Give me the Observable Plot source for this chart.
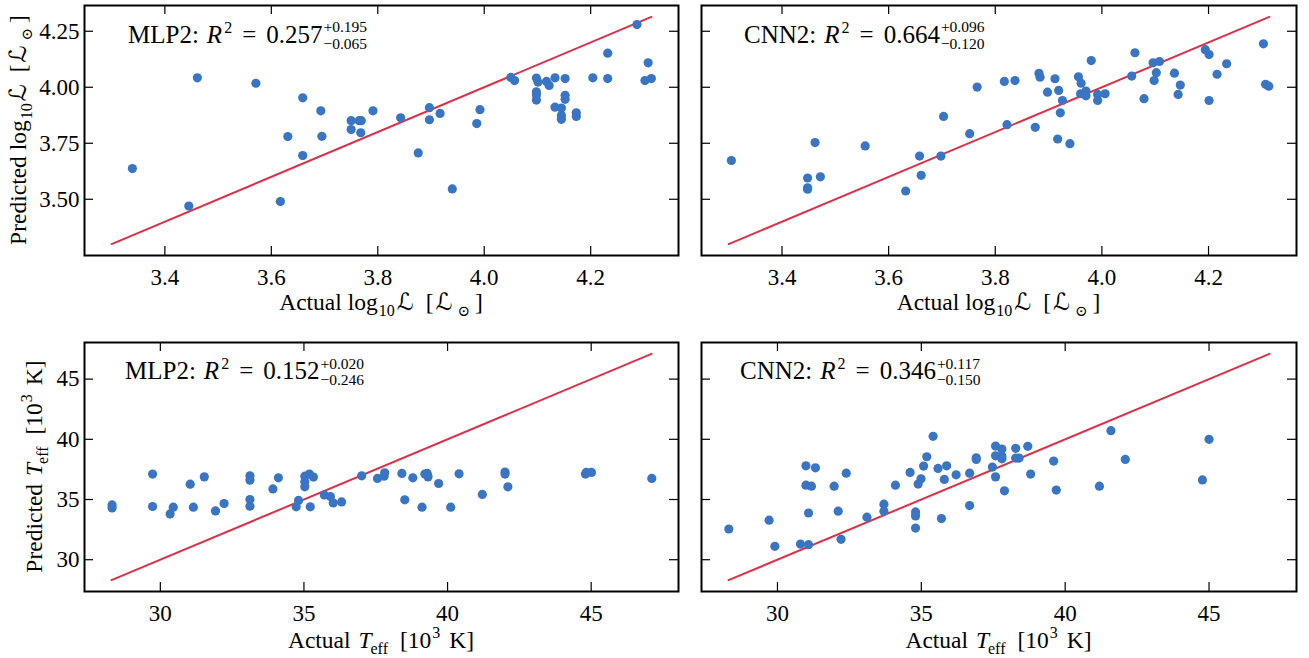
<!DOCTYPE html>
<html><head><meta charset="utf-8">
<script src="https://cdn.jsdelivr.net/npm/d3@7"></script>
<script src="https://cdn.jsdelivr.net/npm/@observablehq/plot@0.6"></script>
<style>
html,body{margin:0;padding:0;background:#fff;}
#root{position:relative;width:1309px;height:658px;overflow:hidden;}
.panel{position:absolute;}
</style></head><body><div id="root"></div>
<script>
// ---------- data ----------
const lumMlpActual = [3.339,3.461,3.445,3.571,3.617,3.631,3.659,3.659,3.693,3.695,3.750,3.765,3.769,3.750,3.768,3.791,3.843,3.897,3.897,3.917,3.876,3.940,3.986,3.992,4.050,4.057,4.098,4.101,4.098,4.098,4.117,4.122,4.133,4.152,4.133,4.145,4.145,4.145,4.152,4.152,4.173,4.173,4.204,4.232,4.232,4.287,4.308,4.302,4.314,4.098];
const lumMlpPred   = [3.637,4.042,3.470,4.018,3.490,3.780,3.953,3.695,3.895,3.781,3.851,3.851,3.851,3.811,3.797,3.895,3.864,3.909,3.855,3.883,3.707,3.546,3.838,3.900,4.044,4.030,4.041,4.023,3.980,3.943,4.026,4.008,4.042,4.039,3.911,3.907,3.874,3.857,3.964,3.946,3.886,3.870,4.042,4.152,4.039,4.280,4.109,4.030,4.039,3.965];
const lumCnnActual = [3.305,3.448,3.448,3.448,3.462,3.472,3.556,3.632,3.658,3.661,3.698,3.703,3.752,3.766,3.817,3.837,3.822,3.875,3.882,3.884,3.898,3.912,3.919,3.926,3.922,3.917,3.940,3.956,3.961,3.960,3.970,3.970,3.980,3.992,3.992,4.006,4.056,4.062,4.079,4.096,4.108,4.102,4.098,4.136,4.147,4.143,4.194,4.201,4.201,4.216,4.234,4.303,4.307,4.313];
const lumCnnPred   = [3.673,3.595,3.551,3.545,3.753,3.600,3.738,3.537,3.693,3.607,3.693,3.870,3.793,4.001,4.026,4.030,3.833,3.821,4.062,4.045,3.978,4.038,3.986,3.941,3.886,3.769,3.748,4.047,4.018,3.971,3.983,3.962,4.119,3.968,3.941,3.971,4.050,4.154,3.949,4.109,4.115,4.065,4.030,4.063,4.010,3.968,4.168,4.146,3.941,4.058,4.105,4.194,4.013,4.005];
const teffMlpActual = [28.32,28.32,29.73,29.73,30.34,30.45,31.04,31.15,31.53,31.92,32.22,33.12,33.12,33.12,33.12,33.92,34.11,34.73,34.81,35.03,35.03,35.03,35.19,35.33,35.22,35.71,35.92,36.02,36.31,37.01,37.56,37.79,37.81,38.41,38.51,38.79,39.11,39.21,39.32,39.29,39.69,40.11,40.40,41.21,42.00,42.00,42.10,44.80,44.83,45.01,47.11];
const teffMlpPred   = [34.55,34.30,37.11,34.42,33.80,34.36,36.27,34.36,36.88,34.05,34.67,36.97,36.61,35.00,34.44,35.88,36.80,34.39,34.92,36.94,36.47,36.05,37.11,36.86,34.39,35.38,35.25,34.72,34.80,36.97,36.75,36.94,37.22,37.17,34.97,36.80,34.36,37.11,36.88,37.17,36.33,34.36,37.13,35.42,37.28,37.11,36.05,37.11,37.25,37.25,36.75];
const teffCnnActual = [28.31,29.71,29.91,30.80,30.99,30.99,31.18,31.32,31.08,31.08,31.97,32.11,32.21,32.39,33.11,33.70,33.70,34.10,34.61,34.80,34.80,34.80,34.89,34.99,35.08,35.19,35.41,35.58,35.70,35.80,35.88,36.21,36.68,36.68,36.91,36.91,37.47,37.58,37.58,37.58,37.80,37.80,37.80,37.89,38.28,38.28,38.40,38.70,38.80,39.60,39.69,41.19,41.59,42.09,44.77,45.00];
const teffCnnPred   = [32.55,33.28,31.11,31.30,37.80,36.19,36.11,37.63,33.88,31.25,36.11,34.03,31.69,37.19,33.53,34.61,34.03,36.19,37.25,33.97,33.63,32.63,36.28,36.72,37.78,38.55,40.25,37.58,33.42,36.67,37.80,37.05,37.19,34.50,38.47,38.33,37.69,39.44,38.63,36.88,39.19,38.61,38.38,35.72,39.25,38.44,38.44,39.42,37.11,38.19,35.78,36.11,40.72,38.33,36.63,40.00];

const lumLine  = [3.300, 4.314];   // one-to-one reference line ends
const teffLine = [28.3, 47.1];
const lumDomain  = [3.249, 4.365];
const teffDomain = [27.36, 48.04];
const lumTicksX = [3.4, 3.6, 3.8, 4.0, 4.2];
const lumTicksY = [3.5, 3.75, 4.0, 4.25];
const teffTicks = [30, 35, 40, 45];

const models = ["MLP2", "CNN2"];
const lumR2  = ["0.257", "0.664"], lumPlus  = ["+0.195", "+0.096"], lumMinus  = ["\u22120.065", "\u22120.120"];
const teffR2 = ["0.152", "0.346"], teffPlus = ["+0.020", "+0.117"], teffMinus = ["\u22120.246", "\u22120.150"];

// ---------- styles ----------
const FONT = "'Liberation Serif', 'DejaVu Serif', 'DejaVu Sans', serif";
const BLUE = "#3a75c4";
const RED = "#dc2f48";
const TICKLEN = 9;

const root = document.getElementById("root");

function makePanel(p) {
  const innerW = p.width - p.mL - p.mR;
  const innerH = p.height - p.mT - p.mB;
  const pts = p.actual.map((a, i) => ({a, p: p.pred[i]}));
  const line = p.line.map(v => ({v}));
  const chart = Plot.plot({
    width: p.width, height: p.height,
    marginLeft: p.mL, marginRight: p.mR, marginTop: p.mT, marginBottom: p.mB,
    style: {background: "none", fontFamily: FONT, fontSize: "22px", color: "#000", overflow: "visible", maxWidth: "none"},
    x: {domain: p.xDomain, axis: null},
    y: {domain: p.yDomain, axis: null},
    marks: [
      Plot.tickX(p.xTicks, {x: d => d, insetBottom: innerH - TICKLEN, stroke: "#000", strokeWidth: 1.2}),
      Plot.tickX(p.xTicks, {x: d => d, insetTop: innerH - TICKLEN, stroke: "#000", strokeWidth: 1.2}),
      Plot.tickY(p.yTicks, {y: d => d, insetRight: innerW - TICKLEN, stroke: "#000", strokeWidth: 1.2}),
      Plot.tickY(p.yTicks, {y: d => d, insetLeft: innerW - TICKLEN, stroke: "#000", strokeWidth: 1.2}),
      Plot.axisX(p.xTicks, {tickSize: 0, tickPadding: 13, tickFormat: p.xFmt, fontSize: 23, label: null}),
      p.yLabels ? Plot.axisY(p.yTicks, {tickSize: 0, tickPadding: 5, tickFormat: p.yFmt, fontSize: 23, label: null}) : null,
      Plot.line(line, {x: "v", y: "v", stroke: RED, strokeWidth: 2}),
      Plot.dot(pts, {x: "a", y: "p", r: 4.6, fill: BLUE, stroke: "none"}),
      Plot.frame({stroke: "#000", strokeWidth: 2})
    ]
  });
  const div = document.createElement("div");
  div.className = "panel";
  div.style.left = p.left + "px";
  div.style.top = p.top + "px";
  div.style.width = p.width + "px";
  div.style.height = p.height + "px";
  div.appendChild(chart);
  root.appendChild(div);
  return {svg: chart, left: p.left, top: p.top};
}

// rich text: segments laid out along a baseline
function rich(panel, x, y, segs, opt = {}) {
  const size = opt.size || 23.5;
  const g = d3.select(panel.svg).append("g")
    .attr("font-family", FONT).attr("fill", "#000").attr("text-anchor", "start");
  const inner = g.append("g");
  let cx = 0;
  const mk = (txt, xx, yy, s) => inner.append("text")
    .attr("x", xx).attr("y", yy).attr("font-size", s.size || size)
    .attr("font-style", s.italic ? "italic" : null)
    .attr("text-anchor", "start")
    .style("white-space", "pre").text(txt);
  for (const s of segs) {
    cx += s.gap || 0;
    if (s.stack) {
      const a = mk(s.stack[0], cx, -s.up, s);
      const b = mk(s.stack[1], cx, s.down, s);
      cx += Math.max(a.node().getComputedTextLength(), b.node().getComputedTextLength());
    } else {
      const t = mk(s.t, cx, s.dy || 0, s);
      cx += t.node().getComputedTextLength();
    }
    cx += s.after || 0;
  }
  const off = opt.anchor === "middle" ? -cx / 2 : 0;
  inner.attr("transform", `translate(${off},0)`);
  g.attr("transform", `translate(${x - panel.left},${y - panel.top})` + (opt.rotate ? " rotate(-90)" : ""));
}

const f1 = d3.format(".1f"), f2 = d3.format(".2f"), f0 = d3.format("d");

const panels = [
  {left: 0,   top: 0,   width: 690, height: 330, mL: 84, mR: 12, mT: 5,  mB: 75, yLabels: true,
   xDomain: lumDomain, yDomain: lumDomain, xTicks: lumTicksX, yTicks: lumTicksY, xFmt: f1, yFmt: f2,
   actual: lumMlpActual, pred: lumMlpPred, line: lumLine},
  {left: 690, top: 0,   width: 619, height: 330, mL: 11, mR: 13, mT: 5,  mB: 75, yLabels: false,
   xDomain: lumDomain, yDomain: lumDomain, xTicks: lumTicksX, yTicks: lumTicksY, xFmt: f1, yFmt: f2,
   actual: lumCnnActual, pred: lumCnnPred, line: lumLine},
  {left: 0,   top: 330, width: 690, height: 328, mL: 84, mR: 12, mT: 12, mB: 67, yLabels: true,
   xDomain: teffDomain, yDomain: teffDomain, xTicks: teffTicks, yTicks: teffTicks, xFmt: f0, yFmt: f0,
   actual: teffMlpActual, pred: teffMlpPred, line: teffLine},
  {left: 690, top: 330, width: 619, height: 328, mL: 11, mR: 13, mT: 12, mB: 67, yLabels: false,
   xDomain: teffDomain, yDomain: teffDomain, xTicks: teffTicks, yTicks: teffTicks, xFmt: f0, yFmt: f0,
   actual: teffCnnActual, pred: teffCnnPred, line: teffLine}
].map(makePanel);

// annotations
function annSegs(model, r2, plus, minus) {
  return [
    {t: model + ":", after: 8},
    {t: "R", italic: true},
    {t: "2", size: 16, dy: -10, gap: 2},
    {t: "=", gap: 10, after: 10},
    {t: r2},
    {stack: [plus, minus], size: 15.5, up: 10.5, down: 6, gap: 1}
  ];
}
rich(panels[0], 128, 42.5, annSegs(models[0], lumR2[0], lumPlus[0], lumMinus[0]), {size: 25});
rich(panels[1], 744, 42.5, annSegs(models[1], lumR2[1], lumPlus[1], lumMinus[1]), {size: 25});
rich(panels[2], 125, 379, annSegs(models[0], teffR2[0], teffPlus[0], teffMinus[0]), {size: 25});
rich(panels[3], 740, 379, annSegs(models[1], teffR2[1], teffPlus[1], teffMinus[1]), {size: 25});

// axis labels
const lumSegs = (word) => [
  {t: word + " log", after: 1}, {t: "10", size: 16, dy: 6}, {t: "\u2112", gap: 2},
  {t: "[", gap: 12}, {t: "\u2112", gap: 2}, {t: "\u2299", size: 15, dy: 6, gap: 5}, {t: "]", gap: 5}
];
const teffSegs = (word) => [
  {t: word + " ", after: 2}, {t: "T", italic: true}, {t: "eff", size: 16, dy: 6, gap: -1},
  {t: "[10", gap: 12}, {t: "3", size: 16, dy: -10, gap: 1}, {t: "K]", gap: 9}
];
rich(panels[0], 381, 310, lumSegs("Actual"), {anchor: "middle"});
rich(panels[1], 998.5, 310, lumSegs("Actual"), {anchor: "middle"});
rich(panels[2], 381, 648, teffSegs("Actual"), {anchor: "middle"});
rich(panels[3], 998.5, 648, teffSegs("Actual"), {anchor: "middle"});
rich(panels[0], 26, 130, lumSegs("Predicted"), {anchor: "middle", rotate: true});
rich(panels[2], 41.5, 466.5, teffSegs("Predicted"), {anchor: "middle", rotate: true});
</script></body></html>
